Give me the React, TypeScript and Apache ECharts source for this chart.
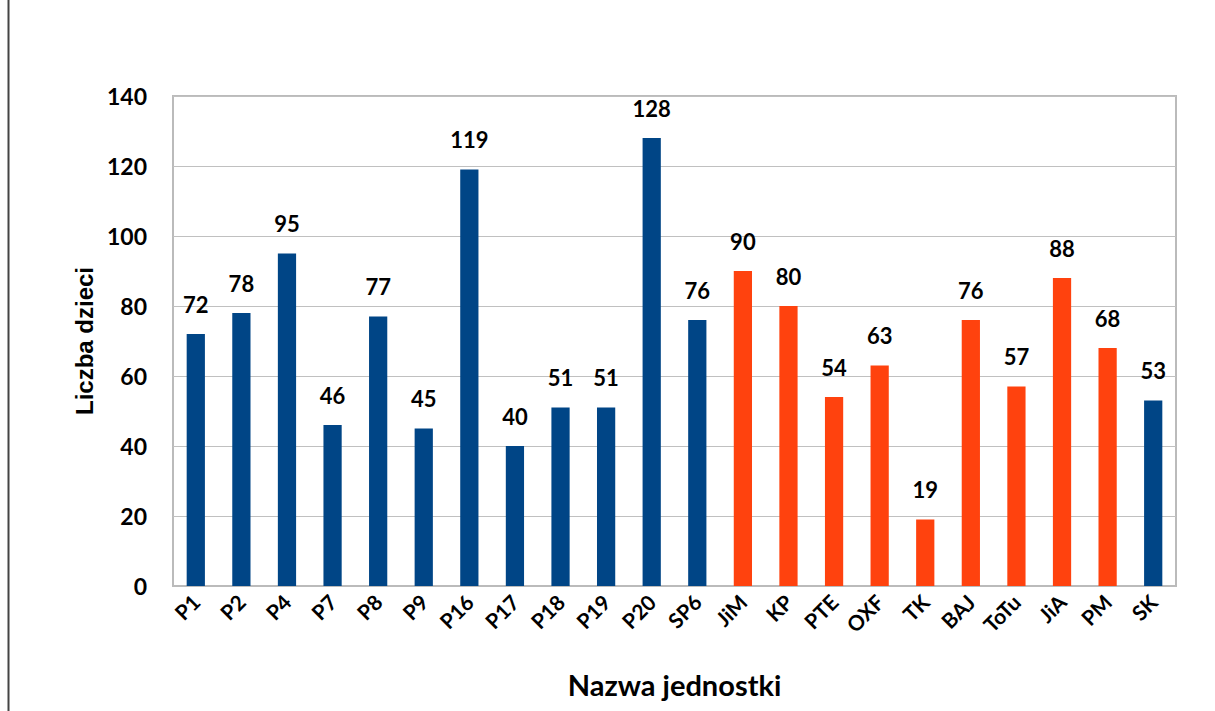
import React, { useEffect, useRef } from "react";
import * as echarts from "echarts";

const categories = ["P1", "P2", "P4", "P7", "P8", "P9", "P16", "P17", "P18", "P19", "P20", "SP6", "JiM", "KP", "PTE", "OXF", "TK", "BAJ", "ToTu", "JiA", "PM", "SK"];
const values = [72, 78, 95, 46, 77, 45, 119, 40, 51, 51, 128, 76, 90, 80, 54, 63, 19, 76, 57, 88, 68, 53];
const groups = ["a", "a", "a", "a", "a", "a", "a", "a", "a", "a", "a", "a", "b", "b", "b", "b", "b", "b", "b", "b", "b", "a"];
const yTicks = [0, 20, 40, 60, 80, 100, 120, 140];
const groupColors: Record<string, string> = { a: "#004586", b: "#ff420e" };

const FONT = "Lato, 'Open Sans', sans-serif";
const ARIAL = "Arial";

export default function App() {
  const ref = useRef<HTMLDivElement>(null);
  useEffect(() => {
    const chart = echarts.init(ref.current!, null, { renderer: "svg" });
    chart.setOption({
      animation: false,
      backgroundColor: "#ffffff",
      textStyle: { fontFamily: FONT },
      graphic: [
        { type: "line", shape: { x1: 8.5, y1: 0, x2: 8.5, y2: 711 }, style: { stroke: "#444", lineWidth: 2 } },
      ],
      grid: { left: 173, right: 39, top: 96, bottom: 125, show: true, borderColor: "#bbbbbb", borderWidth: 2 },
      xAxis: {
        type: "category",
        data: categories,
        name: "Nazwa jednostki",
        nameLocation: "middle",
        nameGap: 84,
        nameTextStyle: { fontSize: 29, fontWeight: "bold", color: "#000", fontFamily: FONT },
        axisLine: { lineStyle: { color: "#bbbbbb", width: 2 } },
        axisTick: { show: false },
        axisLabel: { rotate: 45, fontSize: 21, fontWeight: "bold", color: "#000", margin: 12, fontFamily: FONT, interval: 0 },
      },
      yAxis: {
        type: "value",
        min: 0,
        max: 140,
        interval: 20,
        name: "Liczba dzieci",
        nameLocation: "middle",
        nameGap: 75,
        nameTextStyle: { fontSize: 24, fontWeight: "bold", color: "#000", fontFamily: ARIAL },
        axisLine: { show: false },
        axisTick: { show: false },
        splitLine: { lineStyle: { color: "#c0c0c0", width: 1 } },
        axisLabel: {
          fontSize: 23, fontWeight: "bold", color: "#000", margin: 26, fontFamily: FONT,
          formatter: (v: number) => (yTicks.includes(v) ? String(v) : ""),
        },
      },
      series: [
        {
          type: "bar",
          barWidth: "40%",
          data: values.map((v, i) => ({ value: v, itemStyle: { color: groupColors[groups[i]] } })),
          label: { show: true, position: "top", distance: 19, fontSize: 22, fontWeight: "bold", color: "#000", fontFamily: FONT },
        },
      ],
    });
    return () => chart.dispose();
  }, []);
  return <div ref={ref} style={{ position: "fixed", left: 0, top: 0, width: 1215, height: 711 }} />;
}
